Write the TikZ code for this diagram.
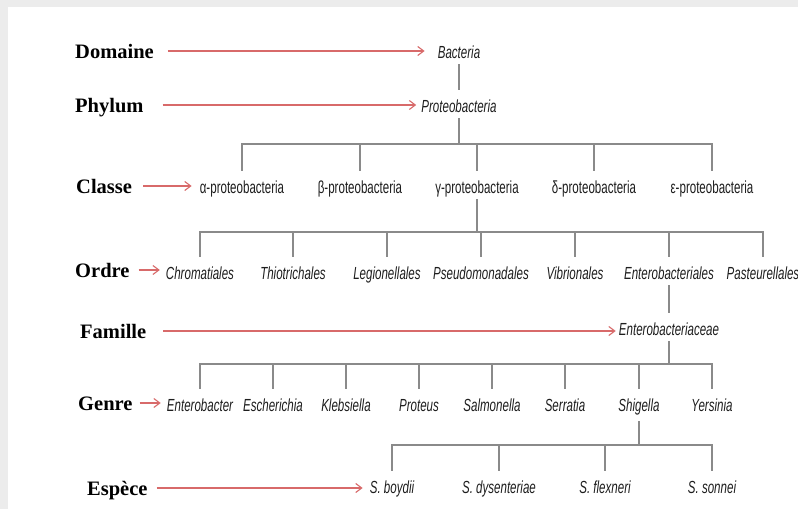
\documentclass[tikz,border=0pt]{standalone}
\usepackage{fontspec}
\setmainfont{Liberation Serif}
\newfontfamily\taxfont[FakeStretch=0.66]{Liberation Sans}
\usetikzlibrary{arrows.meta}
\definecolor{rankred}{HTML}{D86A6A}
\definecolor{treegray}{HTML}{8A8A8A}
\definecolor{framegray}{HTML}{ECECEC}
\definecolor{inkgray}{HTML}{1E1E1E}
\begin{document}
\begin{tikzpicture}[x=1pt, y=-1pt,
  rank/.style={font=\bfseries\fontsize{20.5}{22}\selectfont, anchor=base west,
    inner sep=0pt, text height=14pt, text depth=0pt},
  taxon/.style={font=\taxfont\fontsize{17.5}{19}\selectfont, text=inkgray,
    anchor=base, inner xsep=0pt, inner ysep=2pt, text height=13pt, text depth=4pt},
  genus/.style={taxon, font=\taxfont\itshape\fontsize{17.5}{19}\selectfont},
  branch/.style={draw=treegray, line width=1.1pt},
  rankarrow/.style={draw=rankred, line width=1.1pt,
    -{Straight Barb[length=6pt, width=9pt]}}
]
% page frame
\fill[framegray] (0,0) rectangle (798,509);
\fill[white] (8,7) rectangle (798,509);
\useasboundingbox (0,0) rectangle (798,509);

% rank labels
\node[rank] (dom) at (75,58)  {Domaine};
\node[rank] (phy) at (75,112) {Phylum};
\node[rank] (cla) at (76,193) {Classe};
\node[rank] (ord) at (75,277) {Ordre};
\node[rank] (fam) at (80,338) {Famille};
\node[rank] (gen) at (78,410) {Genre};
\node[rank] (esp) at (87,495) {Espèce};

% domain and phylum
\node[genus] (bac)  at (459,58)  {Bacteria};
\node[genus] (prot) at (459,112) {Proteobacteria};

% classes
\node[taxon] (alph) at (242,193) {α-proteobacteria};
\node[taxon] (beta) at (360,193) {β-proteobacteria};
\node[taxon] (gamm) at (477,193) {γ-proteobacteria};
\node[taxon] (delt) at (594,193) {δ-proteobacteria};
\node[taxon] (epsi) at (712,193) {ε-proteobacteria};

% orders
\node[genus] (chro) at (200,279) {Chromatiales};
\node[genus] (thio) at (293,279) {Thiotrichales};
\node[genus] (legi) at (387,279) {Legionellales};
\node[genus] (pseu) at (481,279) {Pseudomonadales};
\node[genus] (vibr) at (575,279) {Vibrionales};
\node[genus] (ente) at (669,279) {Enterobacteriales};
\node[genus] (past) at (763,279) {Pasteurellales};

% family
\node[genus] (entc) at (669,335) {Enterobacteriaceae};

% genera
\node[genus] (enbt) at (200,411) {Enterobacter};
\node[genus] (esch) at (273,411) {Escherichia};
\node[genus] (kleb) at (346,411) {Klebsiella};
\node[genus] (prts) at (419,411) {Proteus};
\node[genus] (salm) at (492,411) {Salmonella};
\node[genus] (serr) at (565,411) {Serratia};
\node[genus] (shig) at (639,411) {Shigella};
\node[genus] (yers) at (712,411) {Yersinia};

% species
\node[genus] (boyd) at (392,493) {S. boydii};
\node[genus] (dyse) at (499,493) {S. dysenteriae};
\node[genus] (flex) at (605,493) {S. flexneri};
\node[genus] (sonn) at (712,493) {S. sonnei};

% bar levels
\coordinate (barC) at (0,144);
\coordinate (barO) at (0,232);
\coordinate (barG) at (0,364);
\coordinate (barS) at (0,445);

% tree branches
\draw[branch, shorten >=7pt] (bac.south) -- (prot.north);

\draw[branch] (prot.south) -- (prot.south |- barC);
\draw[branch, shorten <=7pt, shorten >=7pt]
  (alph.north) -- (alph |- barC) -- (epsi |- barC) -- (epsi.north);
\foreach \n in {beta,gamm,delt}
  \draw[branch, shorten >=7pt] (\n |- barC) -- (\n.north);

\draw[branch] (gamm.south) -- (gamm.south |- barO);
\draw[branch, shorten <=7pt, shorten >=7pt]
  (chro.north) -- (chro |- barO) -- (past |- barO) -- (past.north);
\foreach \n in {thio,legi,pseu,vibr,ente}
  \draw[branch, shorten >=7pt] (\n |- barO) -- (\n.north);

\draw[branch, shorten >=7pt] (ente.south) -- (entc.north);

\draw[branch] (entc.south) -- (entc.south |- barG);
\draw[branch, shorten <=7pt, shorten >=7pt]
  (enbt.north) -- (enbt |- barG) -- (yers |- barG) -- (yers.north);
\foreach \n in {esch,kleb,prts,salm,serr,shig}
  \draw[branch, shorten >=7pt] (\n |- barG) -- (\n.north);

\draw[branch, shorten <=4pt] (shig.south) -- (shig.south |- barS);
\draw[branch, shorten <=7pt, shorten >=7pt]
  (boyd.north) -- (boyd |- barS) -- (sonn |- barS) -- (sonn.north);
\foreach \n in {dyse,flex}
  \draw[branch, shorten >=7pt] (\n |- barS) -- (\n.north);

% rank arrows
\draw[rankarrow, shorten <=14pt, shorten >=13pt] (dom.east) -- (dom.east -| bac.west);
\draw[rankarrow, shorten <=19pt, shorten >=5pt]  (phy.east) -- (phy.east -| prot.west);
\draw[rankarrow, shorten <=11pt, shorten >=8pt]  (cla.east) -- (cla.east -| alph.west);
\draw[rankarrow, shorten <=9pt,  shorten >=6pt]  (ord.east) -- (ord.east -| chro.west);
\draw[rankarrow, shorten <=17pt, shorten >=3pt]  (fam.east) -- (fam.east -| entc.west);
\draw[rankarrow, shorten <=7pt,  shorten >=6pt]  (gen.east) -- (gen.east -| enbt.west);
\draw[rankarrow, shorten <=9pt,  shorten >=7pt]  (esp.east) -- (esp.east -| boyd.west);
\end{tikzpicture}
\end{document}
